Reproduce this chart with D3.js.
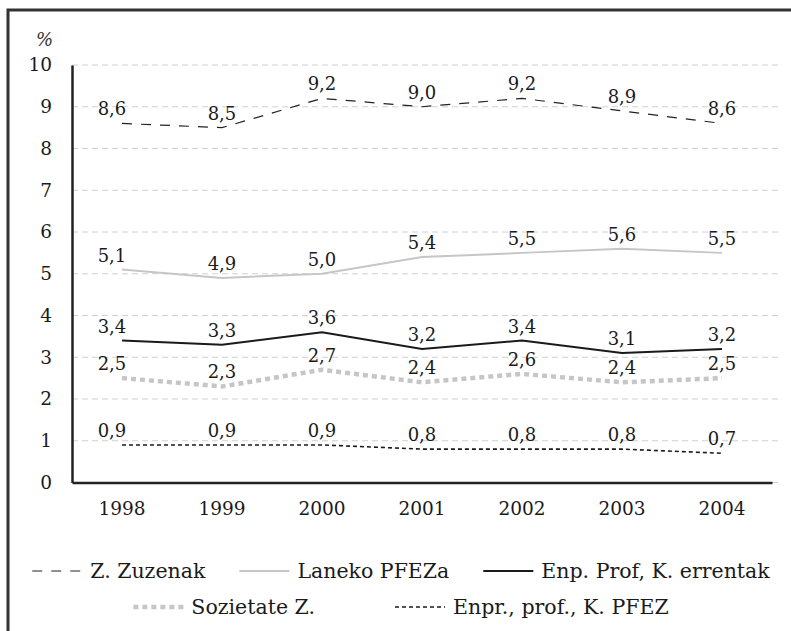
<!DOCTYPE html>
<html>
<head>
<meta charset="utf-8">
<script src="https://cdn.jsdelivr.net/npm/d3@7"></script>
<style>
  body { margin: 0; background: #fff; }
  svg { display: block; }
  text { font-family: 'DejaVu Serif', serif; fill: #1a1a1a; }
</style>
</head>
<body>
<div class="chart"></div>
<script>
'use strict'
const years = ['1998', '1999', '2000', '2001', '2002', '2003', '2004']
const yTicks = [0, 1, 2, 3, 4, 5, 6, 7, 8, 9, 10]

const zuzenak = [8.6, 8.5, 9.2, 9.0, 9.2, 8.9, 8.6]
const laneko = [5.1, 4.9, 5.0, 5.4, 5.5, 5.6, 5.5]
const enpProf = [3.4, 3.3, 3.6, 3.2, 3.4, 3.1, 3.2]
const sozietate = [2.5, 2.3, 2.7, 2.4, 2.6, 2.4, 2.5]
const enprPfez = [0.9, 0.9, 0.9, 0.8, 0.8, 0.8, 0.7]

const seriesNames = ['Z. Zuzenak', 'Laneko PFEZa', 'Enp. Prof, K. errentak', 'Sozietate Z.', 'Enpr., prof., K. PFEZ']
const seriesValues = [zuzenak, laneko, enpProf, sozietate, enprPfez]

// line styles per series
const styles = [
  { color: '#222', width: 1.2, dash: '10,9' },
  { color: '#c6c6c6', width: 2, dash: null },
  { color: '#1a1a1a', width: 2, dash: null },
  { color: '#c6c6c6', width: 4.5, dash: '5,4' },
  { color: '#1a1a1a', width: 1.6, dash: '4,3' }
]

const width = 791
const height = 631
const margin = { left: 72, top: 65, right: 19, bottom: 149 }

const svg = d3.select('.chart').append('svg')
  .attr('width', width)
  .attr('height', height)

// outer frame
svg.append('rect')
  .attr('x', 8).attr('y', 10)
  .attr('width', 820).attr('height', 660)
  .attr('fill', '#fff')
  .attr('stroke', '#333')
  .attr('stroke-width', 3)

const x = d3.scaleBand()
  .domain(years)
  .range([margin.left, 772])

const y = d3.scaleLinear()
  .domain([0, 10])
  .range([height - margin.bottom + 0.5, margin.top])

// gridlines
svg.append('g')
  .selectAll('line')
  .data(yTicks)
  .enter().append('line')
  .attr('x1', margin.left)
  .attr('x2', 778)
  .attr('y1', function (d) { return y(d) })
  .attr('y2', function (d) { return y(d) })
  .attr('stroke', '#d0d0d0')
  .attr('stroke-width', 1)
  .attr('stroke-dasharray', '6,4')

// y axis
const yAxis = svg.append('g')
  .attr('transform', 'translate(' + margin.left + ',0)')
  .call(d3.axisLeft(y).tickValues(yTicks).tickSize(0).tickPadding(20))
yAxis.select('.domain').attr('stroke', '#222').attr('stroke-width', 2.5)
yAxis.selectAll('text')
  .style('font-family', "'DejaVu Serif', serif")
  .style('font-size', '18.5px')
  .attr('fill', '#1a1a1a')

// x axis
const xAxis = svg.append('g')
  .attr('transform', 'translate(0,' + y(0) + ')')
  .call(d3.axisBottom(x).tickSize(0).tickPadding(19))
xAxis.select('.domain').attr('stroke', '#222').attr('stroke-width', 2.5)
xAxis.selectAll('text')
  .style('font-family', "'DejaVu Serif', serif")
  .style('font-size', '18.5px')
  .attr('fill', '#1a1a1a')

svg.append('text')
  .attr('x', 53)
  .attr('y', 46)
  .attr('text-anchor', 'end')
  .style('font-size', '18px')
  .style('font-style', 'italic')
  .style('fill', '#333')
  .text('%')

const line = d3.line()
  .x(function (d, i) { return x(years[i]) + x.bandwidth() / 2 })
  .y(function (d) { return y(d) })

const fmt = function (v) { return d3.format('.1f')(v).replace('.', ',') }

seriesValues.forEach(function (values, s) {
  const st = styles[s]
  svg.append('path')
    .datum(values)
    .attr('fill', 'none')
    .attr('stroke', st.color)
    .attr('stroke-width', st.width)
    .attr('stroke-dasharray', st.dash)
    .attr('d', line)

  // first label sits a bit to the left, as in the source
  svg.append('g').selectAll('text')
    .data(values)
    .enter().append('text')
    .attr('x', function (d, i) { return x(years[i]) + x.bandwidth() / 2 - (i === 0 ? 10 : 0) })
    .attr('y', function (d) { return y(d) - 8 })
    .attr('text-anchor', 'middle')
    .style('font-size', '18px')
    .text(fmt)
})

// legend
const legendRows = [[0, 1, 2], [3, 4]]
const rowY = [571, 607]
const rowGap = [34, 80]
legendRows.forEach(function (row, r) {
  const g = svg.append('g')
  let cx = 0
  row.forEach(function (s) {
    const st = styles[s]
    g.append('line')
      .attr('x1', cx).attr('x2', cx + 50)
      .attr('y1', rowY[r]).attr('y2', rowY[r])
      .attr('stroke', st.color)
      .attr('stroke-width', st.width)
      .attr('stroke-dasharray', st.dash)
    const t = g.append('text')
      .attr('x', cx + 58)
      .attr('y', rowY[r] + 7)
      .style('font-size', '20.5px')
      .text(seriesNames[s])
    cx += 58 + t.node().getComputedTextLength() + rowGap[r]
  })
  const total = cx - rowGap[r]
  g.attr('transform', 'translate(' + (401 - total / 2) + ',0)')
})
</script>
</body>
</html>
